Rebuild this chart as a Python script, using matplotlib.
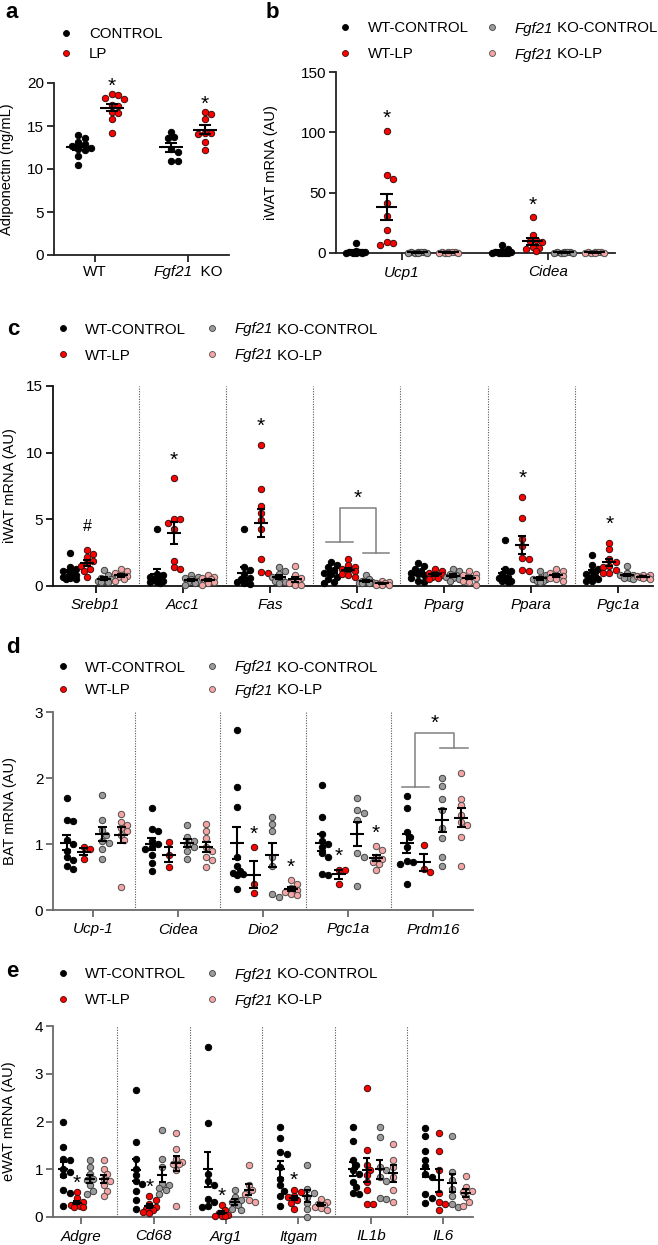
import numpy as np
import matplotlib
matplotlib.use('Agg')
import matplotlib.pyplot as plt
from matplotlib.lines import Line2D

plt.rcParams['font.family'] = ['Liberation Sans', 'DejaVu Sans']

W, H = 658, 1245

# ---------------- data ----------------
# panel a : adiponectin (ng/mL)
a_genotypes = ['WT', 'Fgf21 KO']
a_control = [[13.9, 13.6, 13.1, 12.9, 12.7, 12.5, 12.3, 12.2, 11.5, 10.5],
             [14.3, 13.7, 13.6, 12.3, 12.0, 10.9, 10.9]]
a_lp = [[18.7, 18.6, 18.2, 18.1, 17.4, 17.3, 16.6, 16.5, 15.8, 14.2],
        [16.6, 16.4, 15.8, 14.2, 14.2, 14.1, 13.1, 12.2]]

# panel b : iWAT thermogenic genes
b_genes = ['Ucp1', 'Cidea']
b_wt_ctrl = [[8.0, 2.0, 1.2, 1.0, 0.6, 0.5, 0.3, 0.2, 0.1, 0.1],
             [6.5, 3.6, 1.5, 1.0, 0.6, 0.4, 0.3, 0.2, 0.1, 0.1]]
b_wt_lp = [[101.4, 64.6, 61.3, 41.4, 30.4, 18.8, 8.8, 8.3, 6.4],
           [29.8, 15.2, 11.0, 10.0, 9.0, 5.0, 4.0, 3.0, 2.0]]
b_ko_ctrl = [[0.9, 0.7, 0.6, 0.5, 0.4, 0.3, 0.2, 0.1],
             [1.0, 0.8, 0.6, 0.5, 0.4, 0.3, 0.2, 0.1]]
b_ko_lp = [[0.9, 0.8, 0.6, 0.5, 0.4, 0.3, 0.2, 0.1],
           [0.9, 0.7, 0.6, 0.5, 0.4, 0.3, 0.2, 0.1]]

# panel c : iWAT lipogenic genes
c_genes = ['Srebp1', 'Acc1', 'Fas', 'Scd1', 'Pparg', 'Ppara', 'Pgc1a']
c_wt_ctrl = [[2.5, 1.4, 1.3, 1.1, 1.0, 0.8, 0.7, 0.6, 0.5, 0.5],
             [4.3, 0.9, 0.8, 0.7, 0.6, 0.5, 0.4, 0.3, 0.3, 0.2],
             [4.3, 1.45, 1.2, 0.9, 0.6, 0.5, 0.4, 0.3, 0.2, 0.15],
             [1.8, 1.6, 1.4, 1.2, 1.0, 0.9, 0.7, 0.5, 0.3, 0.2],
             [1.7, 1.5, 1.3, 1.1, 1.0, 0.9, 0.8, 0.6, 0.4, 0.3],
             [3.45, 1.3, 1.1, 0.9, 0.7, 0.6, 0.5, 0.4, 0.35, 0.3],
             [2.3, 1.55, 1.3, 1.1, 0.9, 0.75, 0.6, 0.5, 0.4, 0.35]]
c_wt_lp = [[2.7, 2.4, 2.2, 1.9, 1.7, 1.5, 1.3, 1.1, 0.65],
           [8.1, 5.0, 5.0, 4.7, 4.3, 1.9, 1.45, 1.25],
           [10.6, 7.3, 6.0, 5.5, 4.95, 4.25, 2.05, 1.05, 0.95],
           [2.05, 1.6, 1.45, 1.3, 1.2, 1.1, 0.9, 0.8, 0.7],
           [1.3, 1.1, 1.0, 0.9, 0.8, 0.7, 0.6, 0.5],
           [6.7, 5.1, 3.5, 3.0, 2.1, 2.0, 1.2, 1.15],
           [3.25, 2.75, 2.05, 1.8, 1.5, 1.4, 1.2, 1.0, 0.95]]
c_ko_ctrl = [[1.2, 0.8, 0.6, 0.5, 0.4, 0.35, 0.3, 0.3],
             [0.85, 0.7, 0.6, 0.5, 0.4, 0.3, 0.2, 0.1],
             [1.4, 1.1, 0.9, 0.7, 0.5, 0.4, 0.3, 0.2],
             [0.85, 0.5, 0.4, 0.3, 0.3, 0.25, 0.2, 0.2],
             [1.25, 1.1, 0.9, 0.8, 0.7, 0.6, 0.5, 0.4],
             [1.1, 0.8, 0.6, 0.5, 0.5, 0.4, 0.35, 0.3],
             [1.5, 1.0, 0.85, 0.8, 0.7, 0.6, 0.6, 0.55]]
c_ko_lp = [[1.25, 1.1, 0.95, 0.85, 0.75, 0.65, 0.55, 0.4],
           [0.8, 0.7, 0.6, 0.5, 0.4, 0.3, 0.2, 0.1],
           [1.5, 0.8, 0.6, 0.4, 0.3, 0.2, 0.1, 0.05],
           [0.4, 0.3, 0.25, 0.2, 0.15, 0.1, 0.1, 0.1],
           [1.1, 0.9, 0.8, 0.7, 0.6, 0.4, 0.3, 0.1],
           [1.3, 1.1, 1.0, 0.85, 0.75, 0.6, 0.5, 0.4],
           [0.85, 0.8, 0.75, 0.7, 0.65, 0.6, 0.55]]

# panel d : BAT genes
d_genes = ['Ucp-1', 'Cidea', 'Dio2', 'Pgc1a', 'Prdm16']
d_wt_ctrl = [[1.69, 1.37, 1.35, 1.06, 1.0, 0.9, 0.81, 0.76, 0.66, 0.62],
             [1.54, 1.22, 1.19, 1.05, 1.0, 0.95, 0.93, 0.83, 0.71, 0.59],
             [2.72, 1.87, 1.56, 0.81, 0.66, 0.59, 0.56, 0.55, 0.53, 0.32],
             [1.89, 1.41, 1.15, 1.05, 1.0, 0.95, 0.86, 0.8, 0.55, 0.53],
             [1.73, 1.54, 1.18, 1.11, 0.96, 0.75, 0.73, 0.7, 0.4]]
d_wt_lp = [[0.95, 0.93, 0.77],
           [1.03, 0.84, 0.65],
           [0.95, 0.4, 0.26],
           [0.61, 0.61, 0.4],
           [0.98, 0.62, 0.57]]
d_ko_ctrl = [[1.75, 1.36, 1.21, 1.14, 1.05, 1.01, 0.93, 0.78],
             [1.29, 1.11, 1.05, 1.0, 0.95, 0.9, 0.78],
             [1.41, 1.31, 1.19, 0.81, 0.66, 0.25, 0.2],
             [1.69, 1.52, 1.47, 1.37, 0.86, 0.81, 0.37],
             [2.0, 1.88, 1.68, 1.51, 1.25, 1.09, 0.81, 0.67]]
d_ko_lp = [[1.45, 1.34, 1.29, 1.24, 1.2, 1.14, 1.06, 0.35],
           [1.3, 1.2, 1.09, 0.95, 0.9, 0.8, 0.76, 0.65],
           [0.45, 0.4, 0.33, 0.3, 0.28, 0.25, 0.23],
           [0.97, 0.91, 0.8, 0.78, 0.73, 0.7, 0.61],
           [2.08, 1.68, 1.59, 1.44, 1.34, 1.29, 1.1, 0.67]]

# panel e : eWAT inflammatory genes
e_genes = ['Adgre', 'Cd68', 'Arg1', 'Itgam', 'IL1b', 'IL6']
e_wt_ctrl = [[1.99, 1.47, 1.22, 1.19, 1.0, 0.94, 0.87, 0.56, 0.51, 0.24],
             [2.66, 1.57, 1.22, 1.0, 0.87, 0.75, 0.7, 0.55, 0.35, 0.17],
             [3.55, 1.96, 0.9, 0.75, 0.66, 0.38, 0.31, 0.24, 0.21],
             [1.89, 1.66, 1.36, 1.31, 1.05, 0.8, 0.66, 0.55, 0.45, 0.24],
             [1.89, 1.6, 1.19, 1.08, 0.98, 0.9, 0.73, 0.63, 0.5, 0.48],
             [1.87, 1.7, 1.38, 1.2, 1.06, 0.9, 0.84, 0.49, 0.4, 0.29]]
e_wt_lp = [[0.52, 0.4, 0.31, 0.28, 0.25, 0.24, 0.21, 0.2],
           [0.43, 0.36, 0.28, 0.21, 0.17, 0.14, 0.1, 0.09],
           [0.25, 0.15, 0.08, 0.05, 0.03, 0.02, 0.02],
           [0.57, 0.52, 0.45, 0.42, 0.35, 0.3, 0.17],
           [2.71, 1.41, 1.08, 0.98, 0.88, 0.73, 0.57, 0.28, 0.27],
           [1.76, 1.38, 0.99, 0.5, 0.31, 0.28, 0.15]]
e_ko_ctrl = [[1.19, 1.05, 0.91, 0.8, 0.77, 0.66, 0.55, 0.49],
             [1.82, 1.22, 1.05, 0.7, 0.66, 0.6, 0.56, 0.48],
             [0.56, 0.42, 0.35, 0.31, 0.25, 0.17, 0.15],
             [1.08, 0.59, 0.5, 0.42, 0.3, 0.17, 0.01],
             [1.89, 1.68, 1.05, 0.98, 0.84, 0.76, 0.4, 0.38],
             [1.7, 0.94, 0.77, 0.59, 0.45, 0.28, 0.21]]
e_ko_lp = [[1.19, 1.01, 0.9, 0.8, 0.75, 0.66, 0.55, 0.45],
           [1.75, 1.43, 1.22, 1.15, 1.12, 1.1, 0.98, 0.24],
           [1.08, 0.66, 0.56, 0.49, 0.35, 0.31],
           [0.38, 0.32, 0.28, 0.25, 0.21, 0.18, 0.14],
           [1.52, 1.19, 1.05, 0.84, 0.56, 0.31],
           [0.85, 0.62, 0.55, 0.52, 0.42, 0.31, 0.22]]

# significance marks: (symbol, gene index, group index)
a_marks = [('*', 0, 1), ('*', 1, 1)]
b_marks = [('*', 0, 1), ('*', 1, 1)]
c_marks = [('#', 0, 1), ('*', 1, 1), ('*', 2, 1), ('*', 5, 1), ('*', 6, 1)]
d_marks = [('*', 2, 1), ('*', 2, 3), ('*', 3, 1), ('*', 3, 3)]
e_marks = [('*', 0, 1), ('*', 1, 1), ('*', 2, 1), ('*', 3, 1)]
# genotype brackets: (gene index, WT height, KO height, top height)
c_bracket = (3, 3.3, 2.5, 5.85)
d_bracket = (4, 1.87, 2.46, 2.68)

# ---------------- style ----------------
BLACK = ('#000000', '#000000')
RED = ('#ff0000', '#3a1010')
GREY = ('#9b9b9b', '#404040')
PINK = ('#f5a3a3', '#505050')
MS = 4.6
DIAM = MS * 100 / 72
FS_TICK = 11
FS_LEG = 10.8
FS_STAR = 15

fig = plt.figure(figsize=(W / 100, H / 100), dpi=100)
renderer = fig.canvas.get_renderer()


def make_axes(l, t, r, b):
    return fig.add_axes([l / W, 1 - b / H, (r - l) / W, (b - t) / H])


def mixed_text(x_px, y_px, parts, fs, ha='left'):
    """Draw consecutive text pieces (text, style) on one baseline, fig pixels."""
    objs = []
    x = x_px
    for s, st in parts:
        t = fig.text(x / W, 1 - y_px / H, s, fontsize=fs, style=st,
                     va='baseline', ha='left')
        bb = t.get_window_extent(renderer)
        x += bb.width
        objs.append(t)
    total = x - x_px
    if ha == 'center':
        for t in objs:
            px, py = t.get_position()
            t.set_position((px - total / 2 / W, py))
    return objs


def style(ax, xlim, ymax, yticks, labels, ylabel, col, ylab_x, italic=True):
    ax.set_xlim(*xlim)
    ax.set_ylim(0, ymax)
    for s in ['top', 'right']:
        ax.spines[s].set_visible(False)
    for s in ['left', 'bottom']:
        ax.spines[s].set_color(col)
        ax.spines[s].set_linewidth(1.3)
    ax.set_yticks(yticks)
    ax.set_xticks(range(len(labels)))
    if italic:
        ax.set_xticklabels(labels, fontsize=FS_TICK, style='italic')
    else:
        ax.set_xticklabels([''] * len(labels))
    ax.tick_params(axis='both', length=5, width=1.3, color=col, labelsize=FS_TICK, pad=2)
    ax.tick_params(axis='x', pad=4)
    ax.set_ylabel(ylabel, fontsize=10.5)
    bb = ax.get_window_extent()
    ax.yaxis.set_label_coords((ylab_x - bb.x0) / bb.width, 0.5)


def swarm(ax, cx, vals, max_half):
    tr = ax.transData
    inv = tr.inverted()
    pts = np.array([tr.transform((cx, v)) for v in vals])
    order = np.argsort(-np.asarray(vals))
    step = DIAM * 0.5
    cands = [0.0]
    k = 1
    while k * step <= max_half + 1e-6:
        cands += [k * step, -k * step]
        k += 1
    placed = []
    xs = np.zeros(len(vals))
    for i in order:
        py = pts[i][1]
        best, bestc, bestd = None, 0.0, -1
        for c in cands:
            dmin = min([np.hypot(c - pc, py - qy) for pc, qy in placed], default=1e9)
            if dmin >= DIAM * 0.85:
                best = c
                break
            if dmin > bestd:
                bestd, bestc = dmin, c
        if best is None:
            best = bestc
        placed.append((best, py))
        xs[i] = inv.transform((pts[i][0] + best, py))[0]
    return xs


def draw_groups(ax, groups, offsets, styles, max_half, mean_w, cap_w):
    bb = ax.get_window_extent()
    xl = ax.get_xlim()
    ppx = bb.width / (xl[1] - xl[0])
    tops = {}
    for g, (data, off, st) in enumerate(zip(groups, offsets, styles)):
        for i, vals in enumerate(data):
            vals = np.asarray(vals, float)
            cx = i + off
            xs = swarm(ax, cx, vals, max_half)
            ax.plot(xs, vals, 'o', ms=MS, mfc=st[0], mec=st[1], mew=0.7,
                    ls='none', clip_on=False, zorder=3)
            m = vals.mean()
            s = vals.std(ddof=1) / np.sqrt(len(vals))
            hw = mean_w / 2 / ppx
            cw = cap_w / 2 / ppx
            kw = dict(color='k', lw=1.5, zorder=5, solid_capstyle='butt', clip_on=False)
            ax.plot([cx - hw, cx + hw], [m, m], **kw)
            ax.plot([cx, cx], [m - s, m + s], **kw)
            ax.plot([cx - cw, cx + cw], [m + s, m + s], **kw)
            ax.plot([cx - cw, cx + cw], [m - s, m - s], **kw)
            tops[(i, g)] = (cx, vals.max())
    return tops


def marks(ax, tops, mlist, pad_px):
    inv = ax.transData.inverted()
    for sym, i, g in mlist:
        cx, top = tops[(i, g)]
        px, py = ax.transData.transform((cx, top))
        fs = FS_STAR if sym == '*' else 11.5
        shift = 0.60 * fs * 100 / 72 if sym == '*' else 0.36 * fs * 100 / 72
        y = inv.transform((px, py + pad_px - shift))[1]
        ax.text(cx, y, sym, ha='center', va='baseline', fontsize=fs, clip_on=False)


def bracket(ax, spec, offsets, col='#808080'):
    i, h1, h2, h3 = spec
    l0, l1 = i + offsets[0] - 0.06, i + offsets[1] + 0.06
    r0, r1 = i + offsets[2] - 0.03, i + offsets[3] + 0.08
    lm, rm = (l0 + l1) / 2, (r0 + r1) / 2
    kw = dict(color=col, lw=1.1, clip_on=False, zorder=2)
    ax.plot([l0, l1], [h1, h1], **kw)
    ax.plot([lm, lm, rm, rm], [h1, h3, h3, h2], **kw)
    ax.plot([r0, r1], [h2, h2], **kw)
    ax.text((lm + rm) / 2, h3, '*', ha='center', va='bottom', fontsize=FS_STAR)


def dividers(ax, n, ymax, col='#555555'):
    for k in range(n - 1):
        ax.plot([k + 0.5, k + 0.5], [0, ymax], color=col, lw=0.8,
                ls=(0, (1, 1.3)), zorder=1)


def legend(entries, cols, rows):
    for idx, (parts, st) in enumerate(entries):
        c = idx // 2
        r = idx % 2
        mx, tx = cols[c]
        ry = rows[r]
        fig.add_artist(Line2D([mx / W], [1 - ry / H], transform=fig.transFigure,
                              marker='o', ms=4.3, mfc=st[0], mec=st[1], mew=0.6, ls='none'))
        mixed_text(tx, ry + 5.5, parts, FS_LEG)


def panel_label(x, y, s):
    fig.text(x / W, 1 - y / H, s, fontsize=16, fontweight='bold', va='baseline', ha='left')


four = [([('WT-CONTROL', 'normal')], BLACK), ([('WT-LP', 'normal')], RED),
        ([('Fgf21', 'italic'), (' KO-CONTROL', 'normal')], GREY),
        ([('Fgf21', 'italic'), (' KO-LP', 'normal')], PINK)]

# ---------------- panel a ----------------
axa = make_axes(54, 83, 229, 255)
style(axa, (-0.44, 1.44), 20, [0, 5, 10, 15, 20], a_genotypes,
      'Adiponectin (ng/mL)', '#222222', 14, italic=False)
mixed_text(95, 276, [(a_genotypes[0], 'normal')], FS_TICK, ha='center')
geno = a_genotypes[1].split(' ')
mixed_text(188, 276, [(geno[0], 'italic'), ('  ' + geno[1], 'normal')], FS_TICK, ha='center')
off_a = [-0.18, 0.18]
tops = draw_groups(axa, [a_control, a_lp], off_a, [BLACK, RED], 13, 24, 12)
marks(axa, tops, a_marks, 15)
legend([([('CONTROL', 'normal')], BLACK), ([('LP', 'normal')], RED)], [(66, 89)], [33, 53])
panel_label(5, 18, 'a')

# ---------------- panel b ----------------
axb = make_axes(336, 72, 615, 253)
style(axb, (-0.45, 1.46), 150, [0, 50, 100, 150], b_genes,
      'iWAT mRNA (AU)', '#222222', 278)
off_b = [-0.315, -0.103, 0.11, 0.32]
tops = draw_groups(axb, [b_wt_ctrl, b_wt_lp, b_ko_ctrl, b_ko_lp], off_b,
                   [BLACK, RED, GREY, PINK], 12, 21, 13)
marks(axb, tops, b_marks, 19)
legend(four, [(345, 368), (492, 515)], [27, 53])
panel_label(266, 18, 'b')

# ---------------- panel c ----------------
axc = make_axes(53, 386, 653, 586)
style(axc, (-0.49, 6.40), 15, [0, 5, 10, 15], c_genes,
      'iWAT mRNA (AU)', '#111111', 17)
off_c = [-0.3, -0.1, 0.1, 0.29]
dividers(axc, 7, 15)
tops = draw_groups(axc, [c_wt_ctrl, c_wt_lp, c_ko_ctrl, c_ko_lp], off_c,
                   [BLACK, RED, GREY, PINK], 7.5, 14, 8)
marks(axc, tops, c_marks, 25)
bracket(axc, c_bracket, off_c)
legend(four, [(63, 85), (212, 235)], [328, 354])
panel_label(7, 335, 'c')

# ---------------- panel d ----------------
axd = make_axes(53, 712, 473, 910)
style(axd, (-0.47, 4.47), 3, [0, 1, 2, 3], d_genes,
      'BAT mRNA (AU)', '#6a6a6a', 17)
off_d = [-0.31, -0.11, 0.11, 0.33]
dividers(axd, 5, 3)
tops = draw_groups(axd, [d_wt_ctrl, d_wt_lp, d_ko_ctrl, d_ko_lp], off_d,
                   [BLACK, RED, GREY, PINK], 7.5, 14, 9)
marks(axd, tops, d_marks, 20)
bracket(axd, d_bracket, off_d)
legend(four, [(63, 85), (212, 235)], [666, 689])
panel_label(6, 653, 'd')

# ---------------- panel e ----------------
axe = make_axes(53, 1026, 473, 1217)
style(axe, (-0.39, 5.41), 4, [0, 1, 2, 3, 4], e_genes,
      'eWAT mRNA (AU)', '#6a6a6a', 16)
off_e = [-0.25, -0.06, 0.12, 0.31]
dividers(axe, 6, 4)
tops = draw_groups(axe, [e_wt_ctrl, e_wt_lp, e_ko_ctrl, e_ko_lp], off_e,
                   [BLACK, RED, GREY, PINK], 6.5, 10, 7)
marks(axe, tops, e_marks, 16)
legend(four, [(63, 85), (212, 235)], [973, 999])
panel_label(6, 977, 'e')

fig.savefig('out.png', dpi=100)
